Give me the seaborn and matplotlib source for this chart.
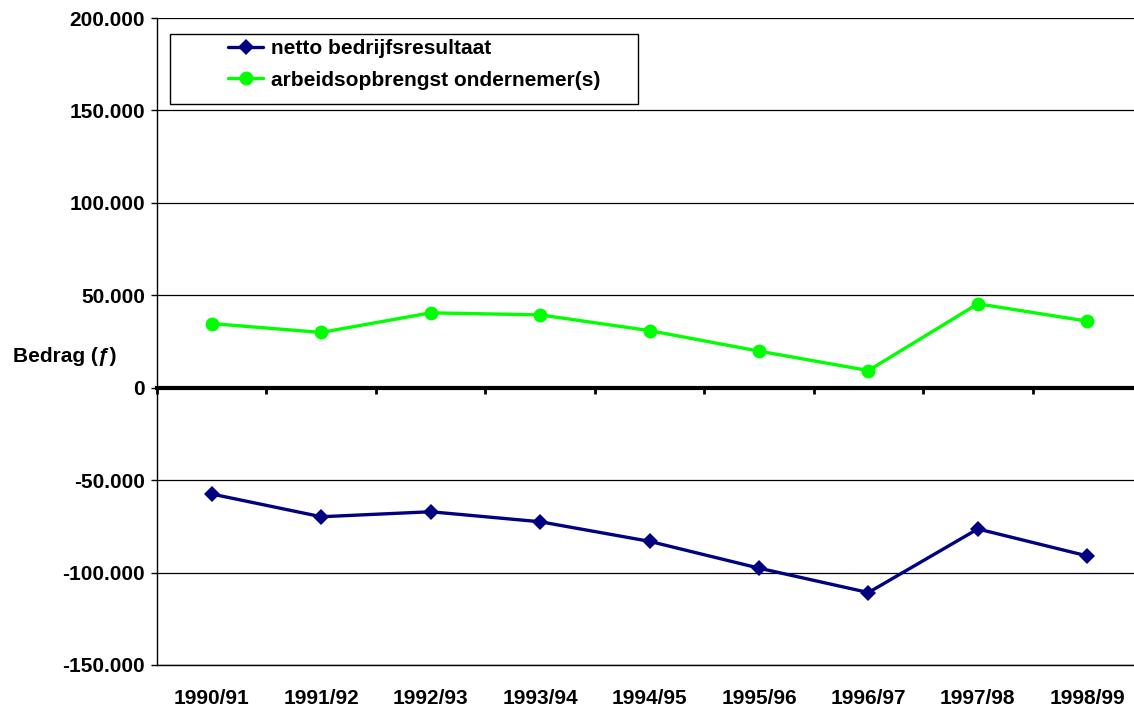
import matplotlib
matplotlib.use('Agg')
import matplotlib.pyplot as plt
import matplotlib.ticker as mticker
from matplotlib.patches import Rectangle
import pandas as pd
import seaborn as sns

# Gegevens
seizoenen = ['1990/91', '1991/92', '1992/93', '1993/94', '1994/95',
             '1995/96', '1996/97', '1997/98', '1998/99']
netto_resultaat = [-57500, -69800, -67100, -72500, -83100, -97600, -110800, -76400, -91000]
arbeidsopbrengst = [34700, 29900, 40500, 39400, 30900, 19800, 9300, 45400, 36000]
y_ticks = [-150000, -100000, -50000, 0, 50000, 100000, 150000, 200000]

df = pd.DataFrame({'seizoen': seizoenen,
                   'netto': netto_resultaat,
                   'arbeid': arbeidsopbrengst})

sns.set_style('white')
plt.rcParams['font.family'] = ['Liberation Sans', 'DejaVu Sans']
plt.rcParams['font.weight'] = 'bold'
plt.rcParams['text.color'] = 'black'
plt.rcParams['xtick.color'] = 'black'
plt.rcParams['ytick.color'] = 'black'
plt.rcParams['axes.labelcolor'] = 'black'

W, H = 1134, 709
fig = plt.figure(figsize=(W / 100, H / 100), dpi=100)
ax = fig.add_axes([157 / W, 1 - 665 / H, (1142 - 157) / W, (665 - 18) / H])

# Lijnen
sns.lineplot(data=df, x='seizoen', y='netto', ax=ax, color='#000080',
             linewidth=2.4, marker='D', markersize=8, markeredgewidth=0,
             label='netto bedrijfsresultaat', zorder=3)
sns.lineplot(data=df, x='seizoen', y='arbeid', ax=ax, color='#00FF00',
             linewidth=2.4, marker='o', markersize=10, markeredgewidth=0,
             label='arbeidsopbrengst ondernemer(s)', zorder=3)

ax.set_xlim(-0.5, 8.5)
ax.set_ylim(-150000, 200000)
ax.set_yticks(y_ticks)
ax.yaxis.set_major_formatter(mticker.FuncFormatter(lambda v, p: f'{v:,.0f}'.replace(',', '.')))
ax.yaxis.grid(True, color='black', linewidth=0.9)
ax.set_axisbelow(True)

for s in ['top', 'right']:
    ax.spines[s].set_visible(False)
for s in ['left', 'bottom']:
    ax.spines[s].set_color('black')
    ax.spines[s].set_linewidth(1)

ax.tick_params(axis='y', left=True, length=4.5, width=1, color='black',
               labelcolor='black', pad=4, labelsize=15)
ax.tick_params(axis='x', bottom=False, length=0, pad=17, labelsize=15,
               labelcolor='black')
for lbl in ax.get_xticklabels() + ax.get_yticklabels():
    lbl.set_fontweight('bold')
ax.set_xlabel('')
ax.set_ylabel('')

# Nullijn met streepjes tussen de seizoenen
zero_pos = 150000 / 350000
sec = ax.secondary_xaxis(zero_pos)
sec.set_xticks([i - 0.5 for i in range(len(seizoenen))])
sec.set_xticklabels([])
sec.tick_params(axis='x', direction='out', length=4.5, width=2, color='black')
sec.spines['bottom'].set_linewidth(3)
sec.spines['bottom'].set_color('black')

# As-label
fig.text(13 / W, 1 - 356 / H, 'Bedrag (ƒ)', ha='left', va='center',
         fontsize=15, fontweight='bold', color='black')

# Legenda met eigen kader
ax.add_patch(Rectangle((170 / W, 1 - 104 / H), (638 - 170) / W, 70 / H,
                       transform=fig.transFigure, facecolor='white',
                       edgecolor='black', linewidth=1, zorder=4, clip_on=False))
leg = ax.legend(loc='upper left', bbox_to_anchor=(228 / W, 1 - 39 / H),
                bbox_transform=fig.transFigure, frameon=False, borderpad=0,
                borderaxespad=0, handlelength=1.7, handletextpad=0.35,
                labelspacing=0.6, labelcolor='black',
                prop={'size': 15, 'weight': 'bold'})
leg.set_zorder(5)

fig.savefig('out.png', dpi=100)
